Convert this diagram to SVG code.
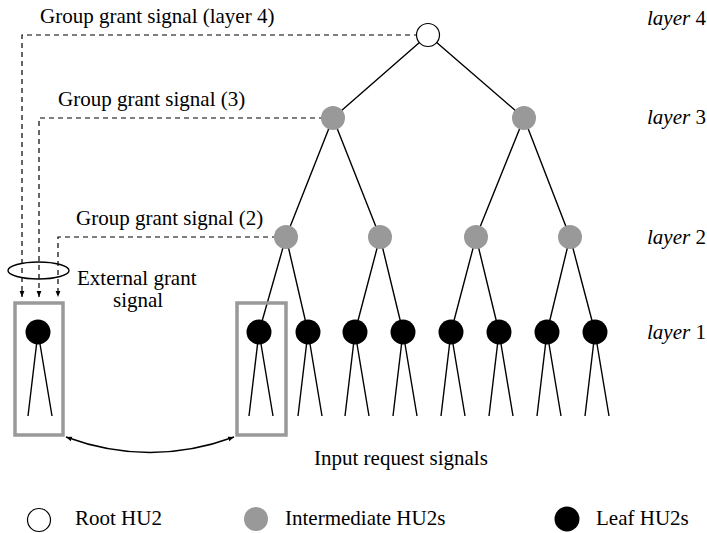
<svg xmlns="http://www.w3.org/2000/svg" width="707" height="533" viewBox="0 0 707 533">
<defs>
<marker id="ah" viewBox="0 0 10 10" refX="10" refY="5" markerWidth="6" markerHeight="6" orient="auto-start-reverse" markerUnits="userSpaceOnUse"><path d="M0,1 L10,5 L0,9 z" fill="#000"/></marker>
<style>
text{font-family:"Liberation Serif","Times New Roman",serif;font-size:21px;fill:#000}
.e{stroke:#000;stroke-width:1.4;fill:none}
.d{stroke:#000;stroke-width:1.2;fill:none;stroke-dasharray:5,4}
.box{fill:none;stroke:#999;stroke-width:3.5}
.root{fill:#fff;stroke:#000;stroke-width:1.2}
.mid{fill:#999}
.leaf{fill:#000}
.i{font-style:italic}
</style>
</defs>
<rect width="707" height="533" fill="#fff"/>
<g id="connectors">
<path class="d" d="M428,35 H22 V297" marker-end="url(#ah)"/>
<path class="d" d="M333,118 H39 V297" marker-end="url(#ah)"/>
<path class="d" d="M286,237 H58 V297" marker-end="url(#ah)"/>
<path class="e" d="M428,35 L333,118 M428,35 L524,118 M333,118 L286,237 M333,118 L380,237 M524,118 L476,237 M524,118 L570,237 M286,237 L259,332 M286,237 L308,332 M380,237 L355,332 M380,237 L403,332 M476,237 L451,332 M476,237 L499,332 M570,237 L547,332 M570,237 L595,332"/>
<path class="e" d="M259,332 L249,416 M259,332 L273,416 M308,332 L298,416 M308,332 L322,416 M355,332 L345,416 M355,332 L369,416 M403,332 L393,416 M403,332 L417,416 M451,332 L441,416 M451,332 L465,416 M499,332 L489,416 M499,332 L513,416 M547,332 L537,416 M547,332 L561,416 M595,332 L585,416 M595,332 L609,416 M38,332 L28,416 M38,332 L52,416"/>
<ellipse class="e" cx="38.5" cy="270.5" rx="30.5" ry="8.5" stroke-width="1.2"/>
<path class="e" stroke-width="1.2" d="M66,437 Q150,468 234,437" marker-start="url(#ah)" marker-end="url(#ah)"/>
</g>
<g id="box-left"><rect class="box" x="15" y="303" width="48" height="132"/></g>
<g id="box-right"><rect class="box" x="237" y="303" width="49" height="132"/></g>
<g id="n-root"><circle class="root" cx="428" cy="35" r="11.5"/></g>
<g id="n-l3a"><circle class="mid" cx="333" cy="118" r="12"/></g>
<g id="n-l3b"><circle class="mid" cx="524" cy="118" r="12"/></g>
<g id="n-l2a"><circle class="mid" cx="286" cy="237" r="12"/></g>
<g id="n-l2b"><circle class="mid" cx="380" cy="237" r="12"/></g>
<g id="n-l2c"><circle class="mid" cx="476" cy="237" r="12"/></g>
<g id="n-l2d"><circle class="mid" cx="570" cy="237" r="12"/></g>
<g id="n-leafx"><circle class="leaf" cx="38" cy="332" r="12.5"/></g>
<g id="n-leaf1"><circle class="leaf" cx="259" cy="332" r="12.5"/></g>
<g id="n-leaf2"><circle class="leaf" cx="308" cy="332" r="12.5"/></g>
<g id="n-leaf3"><circle class="leaf" cx="355" cy="332" r="12.5"/></g>
<g id="n-leaf4"><circle class="leaf" cx="403" cy="332" r="12.5"/></g>
<g id="n-leaf5"><circle class="leaf" cx="451" cy="332" r="12.5"/></g>
<g id="n-leaf6"><circle class="leaf" cx="499" cy="332" r="12.5"/></g>
<g id="n-leaf7"><circle class="leaf" cx="547" cy="332" r="12.5"/></g>
<g id="n-leaf8"><circle class="leaf" cx="595" cy="332" r="12.5"/></g>
<g id="labels">
<text x="40" y="23">Group grant signal (layer 4)</text>
<text x="58" y="106">Group grant signal (3)</text>
<text x="76" y="225">Group grant signal (2)</text>
<text x="77" y="285">External grant</text>
<text x="113" y="307">signal</text>
<text x="314" y="465">Input request signals</text>
<text x="647" y="25"><tspan class="i">layer</tspan> 4</text>
<text x="647" y="124"><tspan class="i">layer</tspan> 3</text>
<text x="647" y="244"><tspan class="i">layer</tspan> 2</text>
<text x="647" y="339"><tspan class="i">layer</tspan> 1</text>
</g>
<g id="legend">
<circle class="root" cx="39" cy="520" r="11.5"/>
<text x="75" y="525">Root HU2</text>
<circle class="mid" cx="256" cy="519" r="12"/>
<text x="285" y="525">Intermediate HU2s</text>
<circle class="leaf" cx="567" cy="519" r="12.5"/>
<text x="596" y="525">Leaf HU2s</text>
</g>
</svg>
